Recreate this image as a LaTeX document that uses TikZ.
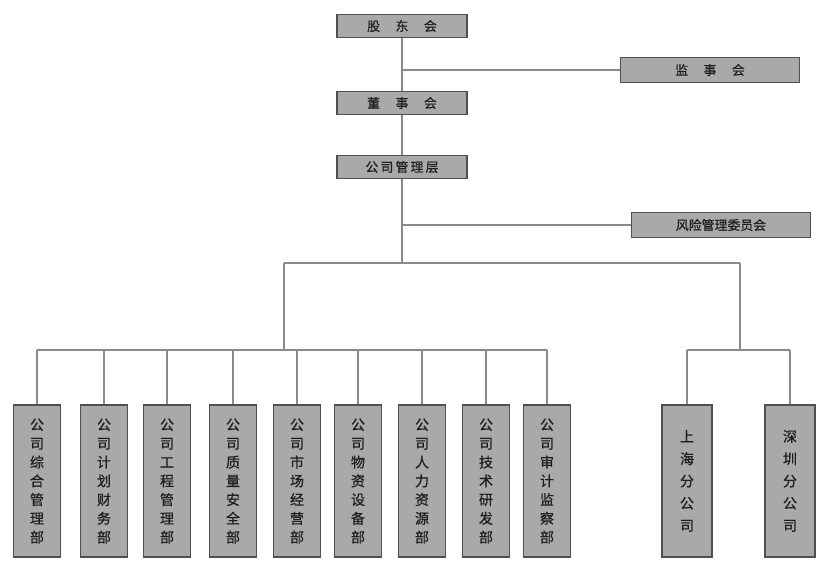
\documentclass[tikz,border=0pt]{standalone}
\usepackage{fontspec}
\newfontfamily\cjk[FakeBold=0.6]{Noto Sans CJK SC}
\usepackage{xcolor}
\usetikzlibrary{positioning}
\definecolor{BoxGray}{HTML}{A9A9A9}
\definecolor{BoxEdge}{HTML}{505050}
\definecolor{LinkGray}{HTML}{8A8A8A}
\definecolor{TextDark}{HTML}{1E1E1E}
\tikzset{
  topbox/.style={draw=BoxEdge, fill=BoxGray, rectangle, line width=1pt,
                 minimum width=39mm, minimum height=7mm, inner sep=0pt,
                 font=\cjk\fontsize{11}{13}\selectfont, text=TextDark},
  sidebox/.style={topbox, minimum width=53.5mm, minimum height=7.5mm},
  deptbox/.style={draw=BoxEdge, fill=BoxGray, rectangle, line width=1pt,
                  minimum width=14.1mm, minimum height=45.6mm, inner sep=0pt,
                  align=center, font=\cjk\fontsize{12}{16}\selectfont,
                  text=TextDark},
  branchbox/.style={deptbox, minimum width=15mm,
                    font=\cjk\fontsize{12}{19}\selectfont},
  link/.style={draw=LinkGray, line width=1.4pt}
}

\begin{document}
\begin{tikzpicture}[x=0.3mm, y=-0.3mm]
  \useasboundingbox (0,0) rectangle (829,572);

  % top of the chart
  \node[topbox]  (gdh) at (402,26)  {股\hspace{1.2em}东\hspace{1.2em}会};
  \node[sidebox] (jsh) at (710,70)  {监\hspace{1.2em}事\hspace{1.2em}会};
  \node[topbox]  (dsh) at (402,103) {董\hspace{1.2em}事\hspace{1.2em}会};
  \node[topbox]  (glc) at (402,167) {公\,司\,管\,理\,层};
  \node[sidebox] (fxw) at (721,225) {风险管理委员会};

  \coordinate (topbus) at (402,263);
  \coordinate (lbus)   at (284,263);
  \coordinate (rbus)   at (740,263);
  \coordinate (lrow)   at (284,350);
  \coordinate (rrow)   at (740,350);

  % departments
  \node[deptbox] (d1) at (37,481)  {公\\司\\综\\合\\管\\理\\部};
  \node[deptbox] (d2) at (104,481) {公\\司\\计\\划\\财\\务\\部};
  \node[deptbox] (d3) at (167,481) {公\\司\\工\\程\\管\\理\\部};
  \node[deptbox] (d4) at (233,481) {公\\司\\质\\量\\安\\全\\部};
  \node[deptbox] (d5) at (297,481) {公\\司\\市\\场\\经\\营\\部};
  \node[deptbox] (d6) at (358,481) {公\\司\\物\\资\\设\\备\\部};
  \node[deptbox] (d7) at (422,481) {公\\司\\人\\力\\资\\源\\部};
  \node[deptbox] (d8) at (486,481) {公\\司\\技\\术\\研\\发\\部};
  \node[deptbox] (d9) at (547,481) {公\\司\\审\\计\\监\\察\\部};

  % branches
  \node[branchbox] (b1) at (687,481) {上\\海\\分\\公\\司};
  \node[branchbox] (b2) at (790,481) {深\\圳\\分\\公\\司};

  % connectors
  \draw[link] (gdh) -- (dsh);
  \draw[link] (dsh) -- (glc);
  \draw[link] (glc) -- (topbus);
  \draw[link] (jsh.west -| gdh) -- (jsh.west);
  \draw[link] (fxw.west -| glc) -- (fxw.west);
  \draw[link] (lbus) -- (rbus);
  \draw[link] (lbus) -- (lrow);
  \draw[link] (rbus) -- (rrow);
  \draw[link] (d1.north |- lrow) -- (d9.north |- lrow);
  \draw[link] (b1.north |- rrow) -- (b2.north |- rrow);
  \foreach \i in {1,...,9}
    \draw[link] (d\i.north |- lrow) -- (d\i.north);
  \foreach \i in {1,2}
    \draw[link] (b\i.north |- rrow) -- (b\i.north);
\end{tikzpicture}
\end{document}
